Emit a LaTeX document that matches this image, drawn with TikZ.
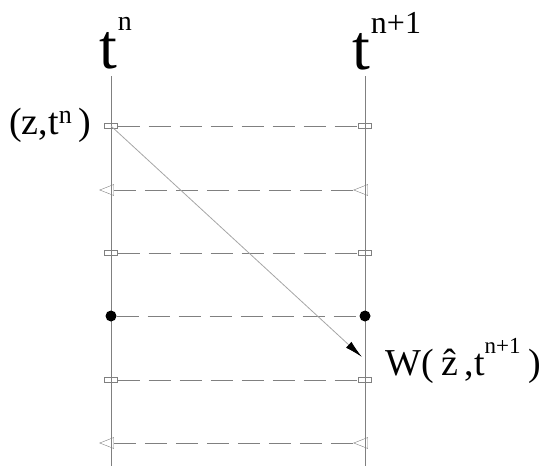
\documentclass[tikz,border=0pt]{standalone}
\usepackage{fontspec}
\setmainfont{Liberation Serif}
\usetikzlibrary{positioning, arrows.meta, shapes.geometric}

\begin{document}
\begin{tikzpicture}[
        x=1pt, y=-1pt,
        sq/.style={draw=gray, rectangle, minimum width=13pt, minimum height=5pt, inner sep=0pt},
        tri/.style={draw=gray, isosceles triangle, shape border rotate=180, isosceles triangle stretches,
                    minimum height=14pt, minimum width=11pt, inner sep=0pt},
        dot/.style={circle, fill=black, minimum size=11pt, inner sep=0pt},
        hline/.style={gray, line width=0.9pt, dash pattern=on 22pt off 9pt},
        vline/.style={gray, line width=0.9pt},
        diag/.style={black!35, line width=0.8pt, -{Latex[length=18pt,width=8pt,color=black]}},
        lbl/.style={inner sep=0pt, font=\fontsize{38}{38}\selectfont},
        lvl/.style={inner sep=0pt, anchor=base west, font=\fontsize{64}{64}\selectfont}
    ]
        \useasboundingbox (0,0) rectangle (544,466);

        % time levels
        \coordinate (ltop) at (111,76);
        \coordinate (lbot) at (111,466);
        \coordinate (rtop) at (365,76);
        \coordinate (rbot) at (365,466);
        \draw[vline] (ltop) -- (lbot);
        \draw[vline] (rtop) -- (rbot);

        \node[lvl] (tn) at (99,68)
            {t\hspace{1pt}\raisebox{38pt}{\fontsize{28}{28}\selectfont n}};
        \node[lvl] (tnp) at (352,69)
            {t\hspace{1pt}\raisebox{36pt}{\fontsize{32}{32}\selectfont n+1}};

        % nodes on the left level
        \node[sq]  (l1) at (111,126) {};
        \node[tri] (l2) at (110,190) {};
        \node[sq]  (l3) at (111,253) {};
        \node[dot] (l4) at (111,316) {};
        \node[sq]  (l5) at (111,380) {};
        \node[tri] (l6) at (110,443) {};

        % nodes on the right level
        \node[sq]  (r1) at (365,126) {};
        \node[tri] (r2) at (364,190) {};
        \node[sq]  (r3) at (365,253) {};
        \node[dot] (r4) at (365,316) {};
        \node[sq]  (r5) at (365,380) {};
        \node[tri] (r6) at (364,443) {};

        \draw[hline] (l1) -- (r1);
        \draw[hline] (l2) -- (r2);
        \draw[hline] (l3) -- (r3);
        \draw[hline] (l4) -- (r4);
        \draw[hline] (l5) -- (r5);
        \draw[hline] (l6) -- (r6);

        % departure point and characteristic
        \node[lbl, anchor=base east] (dep) at (91,134)
            {(z,t\raisebox{11pt}{\fontsize{26}{26}\selectfont n}\,)};
        \coordinate (foot) at (362,357);
        \draw[diag] (l1.center) -- (foot);
        \node[lbl, anchor=base west] (arr) at (385,375)
            {W(\hspace{8pt}\^{z}\hspace{6pt},t\raisebox{22pt}{\fontsize{23}{23}\selectfont n+1}\hspace{8pt})};
    \end{tikzpicture}
\end{document}
